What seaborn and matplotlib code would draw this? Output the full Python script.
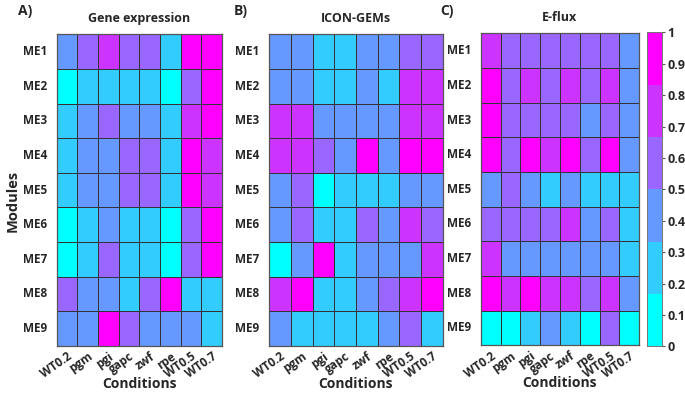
import numpy as np
import pandas as pd
import matplotlib
matplotlib.use("Agg")
import matplotlib.pyplot as plt
import seaborn as sns

# Données
conditions = ["WT0.2", "pgm", "pgi", "gapc", "zwf", "rpe", "WT0.5", "WT0.7"]
modules = ["ME1", "ME2", "ME3", "ME4", "ME5", "ME6", "ME7", "ME8", "ME9"]

gene_expression = [
    [0.42, 0.58, 0.75, 0.58, 0.58, 0.25, 0.92, 0.92],
    [0.08, 0.25, 0.25, 0.25, 0.25, 0.08, 0.58, 0.92],
    [0.25, 0.42, 0.58, 0.42, 0.42, 0.25, 0.75, 0.92],
    [0.25, 0.42, 0.42, 0.58, 0.58, 0.25, 0.92, 0.75],
    [0.25, 0.42, 0.42, 0.58, 0.58, 0.25, 0.92, 0.75],
    [0.08, 0.25, 0.42, 0.25, 0.25, 0.08, 0.58, 0.92],
    [0.08, 0.25, 0.58, 0.25, 0.25, 0.08, 0.58, 0.92],
    [0.58, 0.42, 0.42, 0.25, 0.58, 0.92, 0.25, 0.25],
    [0.42, 0.42, 0.92, 0.58, 0.42, 0.42, 0.42, 0.25],
]

icon_gems = [
    [0.42, 0.42, 0.25, 0.25, 0.42, 0.42, 0.58, 0.58],
    [0.42, 0.42, 0.25, 0.25, 0.42, 0.25, 0.75, 0.75],
    [0.75, 0.75, 0.42, 0.42, 0.42, 0.42, 0.75, 0.75],
    [0.75, 0.75, 0.58, 0.42, 0.92, 0.42, 0.92, 0.92],
    [0.42, 0.58, 0.08, 0.25, 0.25, 0.25, 0.42, 0.42],
    [0.42, 0.58, 0.25, 0.25, 0.58, 0.42, 0.75, 0.58],
    [0.08, 0.42, 0.92, 0.25, 0.42, 0.42, 0.42, 0.75],
    [0.75, 0.92, 0.25, 0.25, 0.42, 0.58, 0.75, 0.92],
    [0.42, 0.25, 0.25, 0.25, 0.25, 0.42, 0.58, 0.25],
]

e_flux = [
    [0.75, 0.58, 0.58, 0.58, 0.58, 0.58, 0.58, 0.42],
    [0.92, 0.58, 0.75, 0.58, 0.75, 0.58, 0.75, 0.42],
    [0.92, 0.58, 0.58, 0.58, 0.58, 0.42, 0.58, 0.42],
    [0.92, 0.58, 0.92, 0.75, 0.92, 0.58, 0.92, 0.42],
    [0.42, 0.58, 0.42, 0.25, 0.42, 0.25, 0.25, 0.25],
    [0.58, 0.58, 0.58, 0.58, 0.75, 0.42, 0.58, 0.25],
    [0.75, 0.42, 0.42, 0.42, 0.42, 0.42, 0.42, 0.25],
    [0.92, 0.75, 0.92, 0.75, 0.75, 0.58, 0.75, 0.42],
    [0.08, 0.08, 0.25, 0.42, 0.25, 0.08, 0.58, 0.08],
]

panels = [
    ("A)", "Gene expression", gene_expression),
    ("B)", "ICON-GEMs", icon_gems),
    ("C)", "E-flux", e_flux),
]

cbar_ticks = [0, 0.1, 0.2, 0.3, 0.4, 0.5, 0.6, 0.7, 0.8, 0.9, 1]


def main():
    sns.set_style("white")
    plt.rcParams["font.family"] = ["Open Sans", "DejaVu Sans"]
    plt.rcParams["font.weight"] = "bold"

    cmap = plt.get_cmap("cool", 6)
    fig = plt.figure(figsize=(6.85, 3.94), dpi=100)

    # positions des heatmaps (fractions de la figure)
    boxes = [
        [0.083, 0.122, 0.241, 0.791],
        [0.393, 0.122, 0.253, 0.791],
        [0.702, 0.124, 0.231, 0.791],
    ]
    tag_x = [0.036, 0.352, 0.652]
    cax = fig.add_axes([0.9445, 0.121, 0.022, 0.797])

    for i, ((tag, title, vals), box) in enumerate(zip(panels, boxes)):
        ax = fig.add_axes(box)
        df = pd.DataFrame(vals, index=modules, columns=conditions)
        sns.heatmap(df, ax=ax, cmap=cmap, vmin=0, vmax=1,
                    linewidths=0.6, linecolor="#333333",
                    cbar=(i == 2), cbar_ax=cax if i == 2 else None)
        for s in ax.spines.values():
            s.set_visible(True)
            s.set_color("#555555")
            s.set_linewidth(0.9)
        ax.set_title(title, fontsize=9, fontweight="bold", pad=9)
        ax.set_yticklabels(modules, rotation=0, fontsize=8.5, fontweight="bold")
        ax.set_xticklabels(conditions, rotation=35, ha="right",
                           rotation_mode="anchor", fontsize=8.5, fontweight="bold")
        ax.tick_params(axis="y", length=0, pad=7)
        ax.tick_params(axis="x", length=0, pad=3)
        ax.set_xlabel("Conditions", fontsize=10, fontweight="bold", labelpad=-3)
        ax.set_ylabel("")
        fig.text(tag_x[i], 0.972, tag, fontsize=10, fontweight="bold",
                 ha="center", va="center")

    fig.text(0.018, 0.49, "Modules", rotation=90, fontsize=10.5,
             fontweight="bold", ha="center", va="center")

    cax.set_yticks(cbar_ticks)
    cax.set_yticklabels([f"{t:g}" for t in cbar_ticks], fontsize=9,
                        fontweight="bold")
    cax.tick_params(axis="y", length=2, width=0.8, color="#555555", pad=2)
    for s in cax.spines.values():
        s.set_visible(True)
        s.set_color("#777777")
        s.set_linewidth(0.6)

    fig.savefig("out.png", dpi=100)
    plt.close(fig)


if __name__ == "__main__":
    main()
